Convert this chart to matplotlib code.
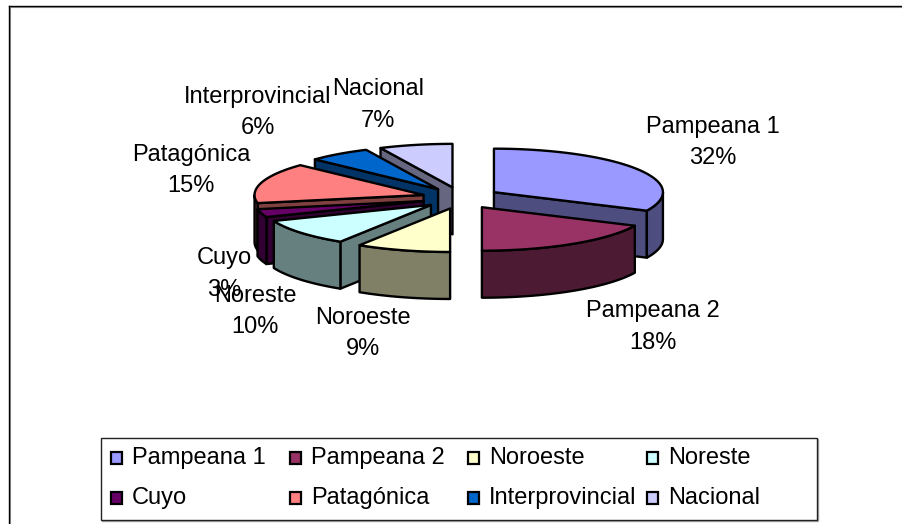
import numpy as np
import matplotlib
matplotlib.use('Agg')
import matplotlib.pyplot as plt
from matplotlib.patches import Polygon, Rectangle

plt.rcParams['font.family'] = ['Liberation Sans', 'DejaVu Sans']

# data
categories = ['Pampeana 1', 'Pampeana 2', 'Noroeste', 'Noreste', 'Cuyo', 'Patagónica', 'Interprovincial', 'Nacional']
values = [32, 18, 9, 10, 3, 15, 6, 7]
top_colors = ['#9999FF', '#993366', '#FFFFCC', '#CCFFFF', '#660066', '#FF8080', '#0066CC', '#CCCCFF']
side_colors = ['#4D4D80', '#4D1A33', '#808066', '#668080', '#330033', '#804040', '#003366', '#666680']

# label centres, pixels
label_x = [713, 653, 363, 255, 224, 191, 258, 378]
label_y = [142.5, 327, 333.5, 311.5, 274, 170.5, 112.5, 105]

# pie shape, pixels
cx, cy = 461, 198
rx, ry = 169, 43.5
depth = 47
ex, ey = 39, 10.9

fig = plt.figure(figsize=(9.03, 5.24), dpi=100)
ax = fig.add_axes([0, 0, 1, 1])
ax.set_xlim(0, 903)
ax.set_ylim(524, 0)
ax.axis('off')

# frame is cut off: only top and left edges are in the picture
ax.plot([10.5, 903], [6.5, 6.5], color='#999999', lw=0.8)
ax.plot([10.5, 10.5], [6.5, 524], color='#999999', lw=0.8)
ax.plot([9.5, 903], [5.5, 5.5], color='black', lw=1)
ax.plot([9.5, 9.5], [5.5, 524], color='black', lw=1)

fracs = np.array(values) / sum(values) * 360
ends = np.cumsum(fracs)
starts = ends - fracs


def rim_points(x0, y0, a, b):
    t = np.radians(np.linspace(a, b, 60))
    return np.column_stack([x0 + rx * np.sin(t), y0 - ry * np.cos(t)])


def draw_face(pts, color, z):
    ax.add_patch(Polygon(pts, closed=True, fc=color, ec='black', lw=1.7, joinstyle='round', zorder=z))


# back to front
order = [7, 6, 0, 5, 4, 3, 2, 1]
for z, i in enumerate(order):
    mid = np.radians((starts[i] + ends[i]) / 2)
    x0 = cx + ex * np.sin(mid)
    y0 = cy - ey * np.cos(mid)
    s, e = starts[i], ends[i]
    base = 10 * z + 2
    down = np.array([0, depth])

    # cut faces
    for ang, normal in ((s, s - 90), (e, e + 90)):
        if np.cos(np.radians(normal)) < -0.01:
            p = rim_points(x0, y0, ang, ang)[0]
            apex = np.array([x0, y0])
            draw_face([apex, p, p + down, apex + down], side_colors[i], base)

    # outer rim, only the near half shows
    a, b = max(s, 90), min(e, 270)
    if b > a:
        r = rim_points(x0, y0, a, b)
        draw_face(np.vstack([r, r[::-1] + down]), side_colors[i], base + 1)

    top = np.vstack([[x0, y0], rim_points(x0, y0, s, e)])
    draw_face(top, top_colors[i], base + 2)

for i, name in enumerate(categories):
    ax.text(label_x[i], label_y[i], '%s\n%d%%' % (name, values[i]), ha='center', va='center',
            fontsize=17, linespacing=1.58, color='black', zorder=200)

# legend, with its grey edge on the right and bottom
ax.add_patch(Rectangle((102.5, 438.5), 716, 82, fc='#AAAAAA', ec='#AAAAAA', lw=1, zorder=201))
ax.add_patch(Rectangle((101.5, 437.5), 716, 82, fc='white', ec='#222222', lw=1, zorder=201))
leg_x = [111, 290, 468, 647]
leg_y = [458, 498]
for i, name in enumerate(categories):
    x = leg_x[i % 4]
    y = leg_y[i // 4]
    ax.add_patch(Rectangle((x, y - 6), 11.5, 11.5, fc=top_colors[i], ec='black', lw=1.6, zorder=202))
    ax.text(x + 21, y, name, ha='left', va='center', fontsize=17, color='black', zorder=202)

fig.savefig('out.png', dpi=100)
